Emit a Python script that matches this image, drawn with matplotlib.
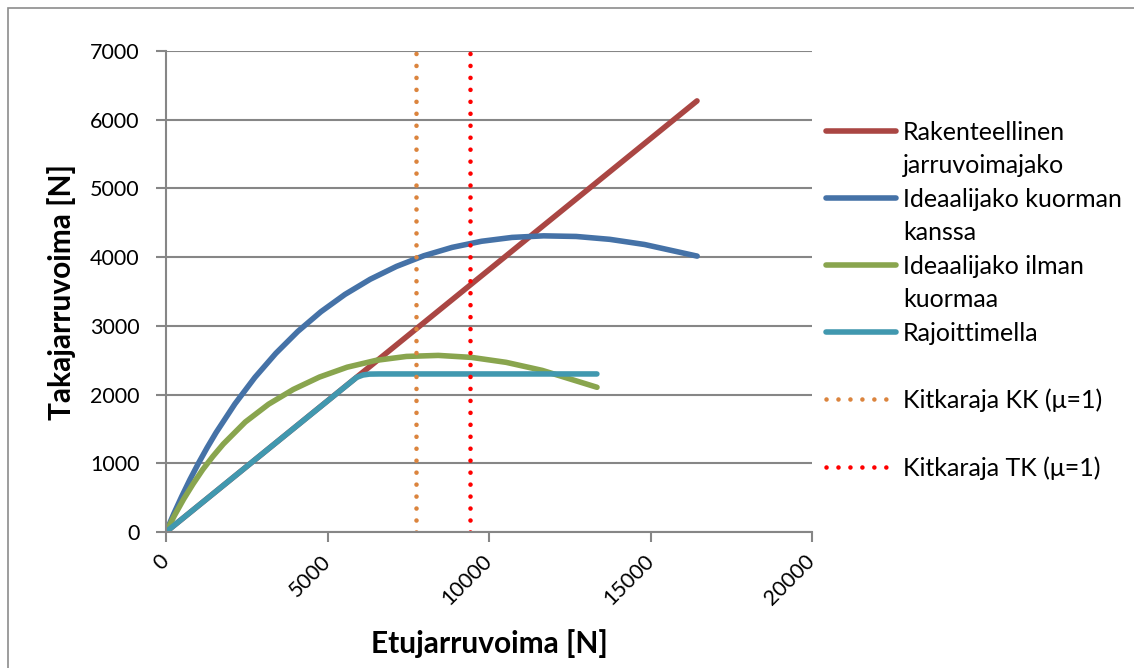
import matplotlib
matplotlib.use("Agg")
import matplotlib.pyplot as plt
from matplotlib.lines import Line2D
from matplotlib.patches import Rectangle

plt.rcParams['font.family'] = ['Lato', 'DejaVu Sans']

# front braking force [N] vs rear braking force [N]
rak_x = [0, 16440]
rak_y = [0, 6274]

kuorma_x = [0, 238, 485, 739, 1002, 1273, 1552, 2135, 2751, 3400, 4081,
            4795, 5542, 6322, 7135, 7980, 8858, 9769, 10713, 11690, 12699,
            13741, 14816, 16445]
kuorma_y = [0, 262, 515, 761, 998, 1227, 1448, 1865, 2249, 2600, 2919,
            3205, 3458, 3678, 3865, 4020, 4142, 4231, 4287, 4310, 4301,
            4259, 4184, 4015]

ilman_x = [0, 268, 548, 838, 1139, 1451, 1774, 2453, 3176, 3942, 4752,
           5606, 6504, 7445, 8430, 9459, 10531, 11648, 13344]
ilman_y = [0, 245, 480, 700, 910, 1100, 1280, 1600, 1860, 2075, 2255,
           2398, 2498, 2555, 2570, 2541, 2469, 2352, 2106]

rajoitin_x = [0, 3000, 5900, 6100, 6300, 6600, 13340]
rajoitin_y = [0, 1145, 2250, 2285, 2298, 2300, 2300]

kitka_kk = 7740
kitka_tk = 9410

labels = ["Rakenteellinen\njarruvoimajako", "Ideaalijako kuorman\nkanssa",
          "Ideaalijako ilman\nkuormaa", "Rajoittimella",
          "Kitkaraja KK (\u03bc=1)", "Kitkaraja TK (\u03bc=1)"]
colors = ['#AA4643', '#4572A7', '#89A54E', '#4198AF', '#DB843D', '#FF0000']

fig = plt.figure(figsize=(11.34, 6.68), dpi=100)
fig.patches.append(Rectangle((8 / 1134, -0.1), 1.2, 1 - 8 / 668 + 0.1,
                             transform=fig.transFigure, fill=False,
                             edgecolor='#8c8c8c', linewidth=1.2))
ax = fig.add_axes([166 / 1134, 1 - 532 / 668, 646 / 1134, 481 / 668])

lw = 4
dlw = 3.3
dots = (0, (0.01, 2.6))
ax.plot(rak_x, rak_y, color=colors[0], lw=lw, solid_capstyle='round')
ax.plot(kuorma_x, kuorma_y, color=colors[1], lw=lw, solid_capstyle='round',
        solid_joinstyle='round')
ax.plot(ilman_x, ilman_y, color=colors[2], lw=lw, solid_capstyle='round',
        solid_joinstyle='round')
ax.plot(rajoitin_x, rajoitin_y, color=colors[3], lw=lw,
        solid_capstyle='round', solid_joinstyle='round')
ax.plot([kitka_kk, kitka_kk], [0, 7000], color=colors[4], lw=dlw,
        linestyle=dots, dash_capstyle='round')
ax.plot([kitka_tk, kitka_tk], [0, 7000], color=colors[5], lw=dlw,
        linestyle=dots, dash_capstyle='round')

ax.set_xlim(0, 20000)
ax.set_ylim(0, 7000)
ax.set_xticks(range(0, 20001, 5000))
ax.set_yticks(range(0, 7001, 1000))
ax.yaxis.grid(True, color='#868686', lw=1.5)
ax.set_axisbelow(True)
for s in ['top', 'right']:
    ax.spines[s].set_visible(False)
for s in ['left', 'bottom']:
    ax.spines[s].set_color('#868686')
    ax.spines[s].set_linewidth(1.5)
ax.tick_params(axis='both', colors='#868686', width=1.5, length=7,
               labelcolor='black', labelsize=15.5)
ax.tick_params(axis='y', pad=12)
ax.tick_params(axis='x', pad=12)
plt.setp(ax.get_xticklabels(), rotation=45, ha='right', va='center',
         rotation_mode='anchor')

ax.set_xlabel("Etujarruvoima [N]", fontsize=21.5, fontweight='bold')
ax.set_ylabel("Takajarruvoima [N]", fontsize=21.5, fontweight='bold')
ax.xaxis.label.set_va('center')
ax.yaxis.label.set_va('center')
ax.xaxis.set_label_coords(0.5, -0.231)
ax.yaxis.set_label_coords(-0.161, 0.5)

# legend with one row per text line, second lines get no marker
blank = Line2D([], [], linestyle='none')
handles = [
    Line2D([], [], color=colors[0], lw=lw, solid_capstyle='round'), blank,
    Line2D([], [], color=colors[1], lw=lw, solid_capstyle='round'), blank,
    Line2D([], [], color=colors[2], lw=lw, solid_capstyle='round'), blank,
    Line2D([], [], color=colors[3], lw=lw, solid_capstyle='round'), blank,
    Line2D([], [], color=colors[4], lw=dlw, linestyle=dots,
           dash_capstyle='round'), blank,
    Line2D([], [], color=colors[5], lw=dlw, linestyle=dots,
           dash_capstyle='round'),
]
texts = []
for lab in labels:
    parts = lab.split("\n")
    texts.append(parts[0])
    texts.append(parts[1] if len(parts) > 1 else "")
texts = texts[:11]
fig.legend(handles, texts, loc='upper left',
           bbox_to_anchor=(826 / 1134, 1 - 121 / 668), frameon=False,
           fontsize=18, handlelength=2.8, handletextpad=0.28,
           labelspacing=0.418, borderpad=0, borderaxespad=0)

fig.savefig("out.png", dpi=100)
